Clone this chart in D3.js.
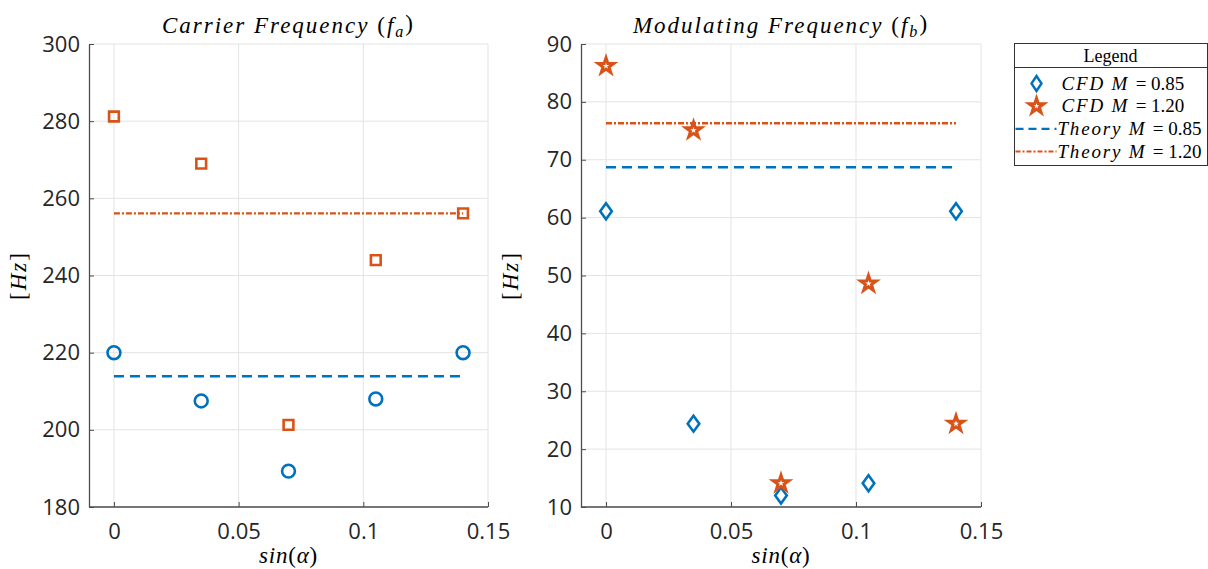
<!DOCTYPE html>
<html>
<head>
<meta charset="utf-8">
<script src="https://cdn.jsdelivr.net/npm/d3@7"></script>
<style>
  body { margin: 0; background: #fff; }
  svg { display: block; }
  .tick text { font-family: 'Open Sans', 'Noto Sans', sans-serif; fill: #262626; }
  .math { font-family: 'Liberation Serif', 'DejaVu Serif', serif; font-style: italic; fill: #000; }
</style>
</head>
<body>
<svg id="chart" width="1208" height="569"></svg>
<script>
const W = 1208, H = 569;
const BLUE = '#0072BD', ORANGE = '#D95319';

// sin(alpha) sample positions
const sinAlpha = [0, 0.035, 0.07, 0.105, 0.14];

// carrier frequency (Hz)
const carrierCFD085 = [220, 207.5, 189.3, 208, 220];
const carrierCFD120 = [281.2, 269, 201.3, 244, 256.1];
const carrierTheory085 = 213.9;
const carrierTheory120 = 256.1;

// modulating frequency (Hz)
const modCFD085 = [61.1, 24.4, 12, 14.1, 61.1];
const modCFD120 = [86.2, 75.1, 14.1, 48.6, 24.4];
const modTheory085 = 68.7;
const modTheory120 = 76.3;

const xTicks = [0, 0.05, 0.1, 0.15];
const carrierTicks = [180, 200, 220, 240, 260, 280, 300];
const modTicks = [10, 20, 30, 40, 50, 60, 70, 80, 90];

const legendItems = [
  { label: 'CFD M = 0.85', kind: 'diamond' },
  { label: 'CFD M = 1.20', kind: 'star' },
  { label: 'Theory M = 0.85', kind: 'dash' },
  { label: 'Theory M = 1.20', kind: 'dashdot' }
];

const svg = d3.select('#chart');

const starPath = d3.symbol().type(d3.symbolStar).size(75);
const diamondPath = 'M0,-8L5.8,0L0,8L-5.8,0Z';

// italic math-ish text; the "(...)" parts kept upright like LaTeX
function mathText(sel, parts) {
  parts.forEach(p => {
    const t = sel.append('tspan').text(p.t);
    if (p.up) t.style('font-style', 'normal');
    if (p.sub) t.attr('font-size', '0.7em').attr('dy', '0.25em');
    if (p.after) t.attr('dy', '-0.25em');
  });
}

function panel(opt) {
  const x = d3.scaleLinear().domain([-0.01, 0.15]).range([opt.x0, opt.x1]);
  const y = d3.scaleLinear().domain(opt.yDomain).range([507, 44]);
  const g = svg.append('g');

  // grid
  g.append('g').selectAll('line').data(xTicks).join('line')
    .attr('x1', d => x(d)).attr('x2', d => x(d))
    .attr('y1', y.range()[0]).attr('y2', y.range()[1])
    .attr('stroke', '#e3e3e3').attr('stroke-width', 1);
  g.append('g').selectAll('line').data(opt.yTicks).join('line')
    .attr('y1', d => y(d)).attr('y2', d => y(d))
    .attr('x1', opt.x0).attr('x2', opt.x1)
    .attr('stroke', '#e3e3e3').attr('stroke-width', 1);

  // axes
  const xAxis = d3.axisBottom(x).tickValues(xTicks).tickFormat(d3.format('~g'))
    .tickSizeInner(-5).tickSizeOuter(0).tickPadding(13);
  const gx = g.append('g').attr('transform', `translate(0,${y.range()[0]})`).call(xAxis);
  const yAxis = d3.axisLeft(y).tickValues(opt.yTicks).tickFormat(d3.format('d'))
    .tickSizeInner(-5).tickSizeOuter(0).tickPadding(9);
  const gy = g.append('g').attr('transform', `translate(${opt.x0},0)`).call(yAxis);
  [gx, gy].forEach(a => {
    a.select('.domain').attr('stroke', '#4d4d4d').attr('stroke-width', 1.3);
    a.selectAll('.tick line').attr('stroke', '#4d4d4d');
    a.selectAll('.tick text').attr('font-size', 22);
  });
  gx.select('.domain').attr('d', `M${opt.x0},0H${opt.x1}`);
  gx.selectAll('.tick text').attr('dy', '0.85em');

  // theory lines
  g.append('line')
    .attr('x1', x(sinAlpha[0])).attr('x2', x(sinAlpha[sinAlpha.length - 1]))
    .attr('y1', y(opt.t085)).attr('y2', y(opt.t085))
    .attr('stroke', BLUE).attr('stroke-width', 2.4).attr('stroke-dasharray', '10,6');
  g.append('line')
    .attr('x1', x(sinAlpha[0])).attr('x2', x(sinAlpha[sinAlpha.length - 1]))
    .attr('y1', y(opt.t120)).attr('y2', y(opt.t120))
    .attr('stroke', ORANGE).attr('stroke-width', 2.4).attr('stroke-dasharray', '6,2,2,2');

  // CFD markers
  const m085 = g.append('g').selectAll('path').data(opt.cfd085).join('path')
    .attr('transform', (d, i) => `translate(${x(sinAlpha[i])},${y(d)})`)
    .attr('fill', 'none').attr('stroke', BLUE).attr('stroke-width', 2.6);
  if (opt.marker085 === 'circle') m085.attr('d', d3.symbol().type(d3.symbolCircle).size(130));
  else m085.attr('d', diamondPath);

  const m120 = g.append('g').selectAll('path').data(opt.cfd120).join('path')
    .attr('transform', (d, i) => `translate(${x(sinAlpha[i])},${y(d)})`)
    .attr('fill', 'none').attr('stroke', ORANGE).attr('stroke-width', 2.6);
  if (opt.marker120 === 'square') m120.attr('d', d3.symbol().type(d3.symbolSquare).size(95));
  else m120.attr('d', starPath).attr('stroke-width', 3).attr('stroke-linejoin', 'miter');

  // titles and labels
  const cx = (opt.x0 + opt.x1) / 2;
  const title = g.append('text').attr('class', 'math')
    .attr('x', cx).attr('y', 33).attr('text-anchor', 'middle')
    .attr('font-size', 23).attr('letter-spacing', 2);
  mathText(title, opt.title);

  const xl = g.append('text').attr('class', 'math')
    .attr('x', cx).attr('y', 563).attr('text-anchor', 'middle')
    .attr('font-size', 23).attr('letter-spacing', 0.8);
  mathText(xl, [{ t: 'sin' }, { t: '(', up: true }, { t: 'α' }, { t: ')', up: true }]);

  const yl = g.append('text').attr('class', 'math')
    .attr('transform', `translate(${opt.x0 - 63},${(y.range()[0] + y.range()[1]) / 2}) rotate(-90)`)
    .attr('text-anchor', 'middle').attr('font-size', 23).attr('letter-spacing', 2);
  mathText(yl, [{ t: '[', up: true }, { t: 'Hz' }, { t: ']', up: true }]);
}

panel({
  x0: 89, x1: 488, yDomain: [180, 300], yTicks: carrierTicks,
  cfd085: carrierCFD085, cfd120: carrierCFD120,
  t085: carrierTheory085, t120: carrierTheory120,
  marker085: 'circle', marker120: 'square',
  title: [{ t: 'Carrier Frequency ' }, { t: '(', up: true }, { t: 'f' }, { t: 'a', sub: true }, { t: ')', up: true, after: true }]
});

panel({
  x0: 581, x1: 981, yDomain: [10, 90], yTicks: modTicks,
  cfd085: modCFD085, cfd120: modCFD120,
  t085: modTheory085, t120: modTheory120,
  marker085: 'diamond', marker120: 'star',
  title: [{ t: 'Modulating Frequency ' }, { t: '(', up: true }, { t: 'f' }, { t: 'b', sub: true }, { t: ')', up: true, after: true }]
});

// legend
const lg = svg.append('g').attr('transform', 'translate(1014.5,43.5)');
lg.append('rect').attr('width', 193).attr('height', 122)
  .attr('fill', '#fff').attr('stroke', '#333').attr('stroke-width', 1);
lg.append('line').attr('x1', 0).attr('x2', 193).attr('y1', 24).attr('y2', 24)
  .attr('stroke', '#333').attr('stroke-width', 1);
lg.append('text').attr('x', 96).attr('y', 18).attr('text-anchor', 'middle')
  .attr('font-family', "'Liberation Serif', 'DejaVu Serif', serif")
  .attr('font-size', 18).text('Legend');

const rowY = d3.scalePoint().domain(legendItems.map(d => d.label)).range([40, 108]);
const rows = lg.selectAll('g.row').data(legendItems).join('g').attr('class', 'row')
  .attr('transform', d => `translate(0,${rowY(d.label)})`);
rows.each(function (d) {
  const r = d3.select(this);
  if (d.kind === 'diamond') {
    r.append('path').attr('d', 'M0,-7.5L5,0L0,7.5L-5,0Z').attr('transform', 'translate(22,0)')
      .attr('fill', 'none').attr('stroke', BLUE).attr('stroke-width', 2.4);
  } else if (d.kind === 'star') {
    r.append('path').attr('d', d3.symbol().type(d3.symbolStar).size(70)).attr('transform', 'translate(22,0)')
      .attr('fill', 'none').attr('stroke', ORANGE).attr('stroke-width', 3);
  } else if (d.kind === 'dash') {
    r.append('line').attr('x1', 1).attr('x2', 42).attr('stroke', BLUE)
      .attr('stroke-width', 2.2).attr('stroke-dasharray', '8,5');
  } else {
    r.append('line').attr('x1', 1).attr('x2', 42).attr('stroke', ORANGE)
      .attr('stroke-width', 2.2).attr('stroke-dasharray', '5,2,2,2');
  }
  const t = r.append('text').attr('class', 'math').attr('y', 6).attr('font-size', 19)
    .attr('x', d.kind === 'dash' || d.kind === 'dashdot' ? 43 : 47);
  const [name, value] = d.label.split(' = ');
  t.append('tspan').attr('letter-spacing', 1.8).text(name + ' ');
  t.append('tspan').style('font-style', 'normal').text('= ' + value);
});
</script>
</body>
</html>
